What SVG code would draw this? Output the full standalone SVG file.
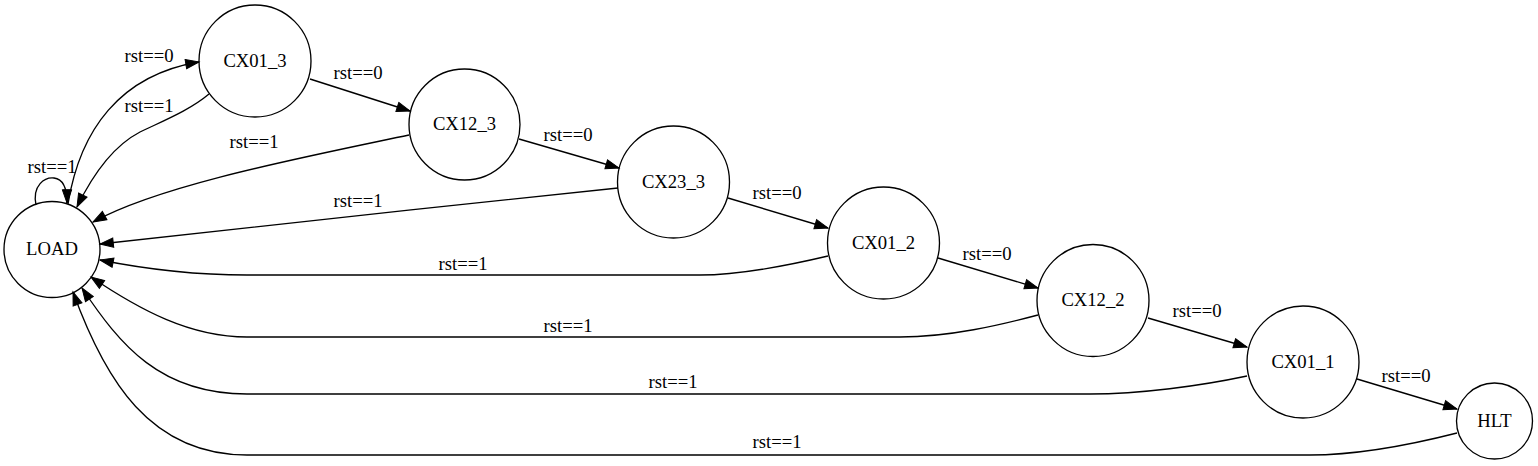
<svg xmlns="http://www.w3.org/2000/svg" width="1538" height="466" viewBox="0 0 1538 466" font-family="Liberation Serif, Times New Roman, serif" font-size="18.67">
<style>
.node circle{fill:none;stroke:#000;stroke-width:1.33}
text{fill:#000;text-anchor:middle}
.edges path{fill:none;stroke:#000;stroke-width:1.33;marker-end:url(#arr)}
</style>
<defs>
<marker id="arr" markerUnits="userSpaceOnUse" markerWidth="16" markerHeight="12" viewBox="0 -6 14 12" refX="13.3" refY="0" orient="auto">
<path d="M0,-4.7 L13.3,0 L0,4.7 Z" fill="#000" stroke="#000" stroke-width="1"/>
</marker>
</defs>
<rect width="1538" height="466" fill="#fff"/>
<g class="edges" id="edges">
<path d="M36,205 C32,185 45,177 54,178 C63,179 67,188 67,203"/>
<path d="M68,204 C80,130 120,75 199,62"/>
<path d="M209,94 C190,110 165,120 140,132 C115,145 95,170 77,207"/>
<path d="M310,79 L410,111"/>
<path d="M409,135 C300,158 160,185 93,222"/>
<path d="M519,139 L619,168"/>
<path d="M618,188 C450,205 250,228 100,244"/>
<path d="M728,198 L828,228"/>
<path d="M828,256 C790,265 740,275 700,275 L247,275 C190,275 140,268 100,260"/>
<path d="M938,258 L1038,288"/>
<path d="M1038,315 C1000,325 950,337 900,337 L247,337 C190,337 140,310 91,277"/>
<path d="M1148,318 L1247,347"/>
<path d="M1247,376 C1200,386 1140,394 1090,394 L247,394 C160,394 120,345 82,288"/>
<path d="M1357,379 L1457,409"/>
<path d="M1457,433 C1410,445 1360,455 1310,455 L247,455 C150,455 105,380 73,292"/>
<text x="52" y="173">rst==1</text>
<text x="149" y="62">rst==0</text>
<text x="149" y="112">rst==1</text>
<text x="358" y="79">rst==0</text>
<text x="254" y="148">rst==1</text>
<text x="568" y="141">rst==0</text>
<text x="358" y="207">rst==1</text>
<text x="777" y="199">rst==0</text>
<text x="463" y="270">rst==1</text>
<text x="987" y="260">rst==0</text>
<text x="568" y="332">rst==1</text>
<text x="1197" y="317">rst==0</text>
<text x="673" y="388">rst==1</text>
<text x="1406" y="382">rst==0</text>
<text x="777" y="448">rst==1</text>
</g>
<g class="node" id="LOAD"><circle cx="52" cy="249.5" r="48"/><text x="52" y="255">LOAD</text></g>
<g class="node" id="CX01_3"><circle cx="255" cy="61" r="56"/><text x="255" y="67">CX01_3</text></g>
<g class="node" id="CX12_3"><circle cx="464.5" cy="124.5" r="55.5"/><text x="464.5" y="130">CX12_3</text></g>
<g class="node" id="CX23_3"><circle cx="673.5" cy="182" r="56"/><text x="673.5" y="188">CX23_3</text></g>
<g class="node" id="CX01_2"><circle cx="883.5" cy="243" r="56"/><text x="883.5" y="249">CX01_2</text></g>
<g class="node" id="CX12_2"><circle cx="1093" cy="300.5" r="56"/><text x="1093" y="306">CX12_2</text></g>
<g class="node" id="CX01_1"><circle cx="1303" cy="362" r="56"/><text x="1303" y="368">CX01_1</text></g>
<g class="node" id="HLT"><circle cx="1494.5" cy="421" r="38"/><text x="1494.5" y="427">HLT</text></g>
</svg>
